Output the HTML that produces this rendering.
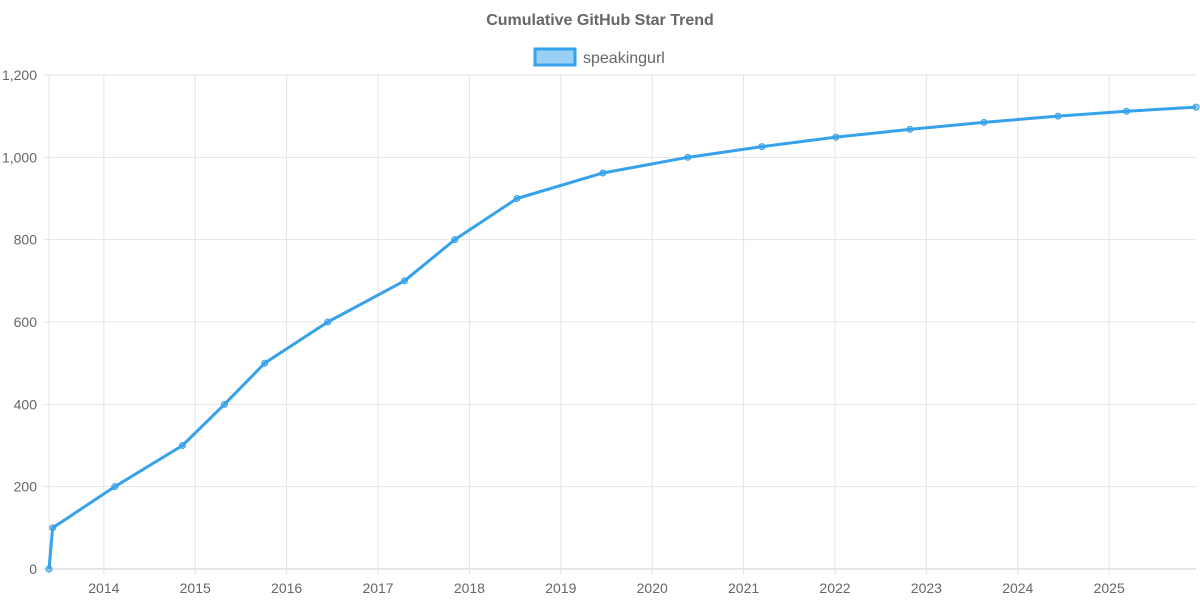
<!DOCTYPE html>
<html><head><meta charset="utf-8"><style>
body{margin:0;background:#fff;font-family:"Liberation Sans",sans-serif}
svg text{font-family:"Liberation Sans",sans-serif}
</style></head><body>
<svg id="chart" width="1200" height="600">
<text x="600" y="25" text-anchor="middle" font-size="16" font-weight="bold" fill="#666">Cumulative GitHub Star Trend</text>
<g>
<rect x="535" y="49" width="40" height="16" fill="rgba(54,162,235,0.5)" stroke="#36a2eb" stroke-width="3"/>
<text x="583" y="63" font-size="16" fill="#666">speakingurl</text>
</g>
<g id="grid"></g><g id="axes"></g><g id="series"></g>
</svg>
<script>
const dates=[2013.40,2013.44,2014.12,2014.86,2015.32,2015.76,2016.45,2017.29,2017.84,2018.52,2019.46,2020.39,2021.20,2022.01,2022.82,2023.63,2024.44,2025.19,2025.95];
const stars=[0,100,200,300,400,500,600,700,800,900,962,1000,1026,1049,1068,1085,1100,1112,1122];
const yTicks=[0,200,400,600,800,1000,1200];
const xTicks=[2014,2015,2016,2017,2018,2019,2020,2021,2022,2023,2024,2025];
const X0=49,X1=1196,Y0=569,Y1=75,xmin=2013.40,xmax=2025.95,ymax=1200;
const xs=v=>X0+(v-xmin)/(xmax-xmin)*(X1-X0);
const ys=v=>Y0-v/ymax*(Y0-Y1);
const NS="http://www.w3.org/2000/svg";
function mk(t,a,p){const e=document.createElementNS(NS,t);for(const k in a)e.setAttribute(k,a[k]);p.appendChild(e);return e;}
const grid=document.getElementById('grid'),axes=document.getElementById('axes'),ser=document.getElementById('series');
yTicks.forEach(v=>{
 const l=mk('line',{x1:X0-6,x2:X1,y1:ys(v),y2:ys(v),stroke:v===0?'#ccc':'#e5e5e5','stroke-width':1},grid);
 
 
 const t=mk('text',{x:37,y:ys(v)+5,'text-anchor':'end','font-size':14,fill:'#666'},axes);
 t.textContent=v.toLocaleString('en-US');
 
 
});
const la=mk('line',{x1:X0,x2:X0,y1:Y1,y2:Y0+6,stroke:'#e5e5e5'},grid);


xTicks.forEach(v=>{
 const l=mk('line',{x1:xs(v),x2:xs(v),y1:Y1,y2:Y0+6,stroke:'#e5e5e5'},grid);
 
 
 const t=mk('text',{x:xs(v),y:593,'text-anchor':'middle','font-size':14,fill:'#666'},axes);
 t.textContent=v;
 
 
});
const pts=dates.map((d,i)=>xs(d)+','+ys(stars[i])).join(' ');
const pl=mk('polyline',{points:pts,fill:'none',stroke:'#36a2eb','stroke-width':3,'stroke-linejoin':'round'},ser);


dates.forEach((d,i)=>{
 const c=mk('circle',{cx:xs(d),cy:ys(stars[i]),r:3,fill:'rgba(54,162,235,0.5)',stroke:'#36a2eb','stroke-width':1},ser);
 
 
});
</script>
</body></html>
